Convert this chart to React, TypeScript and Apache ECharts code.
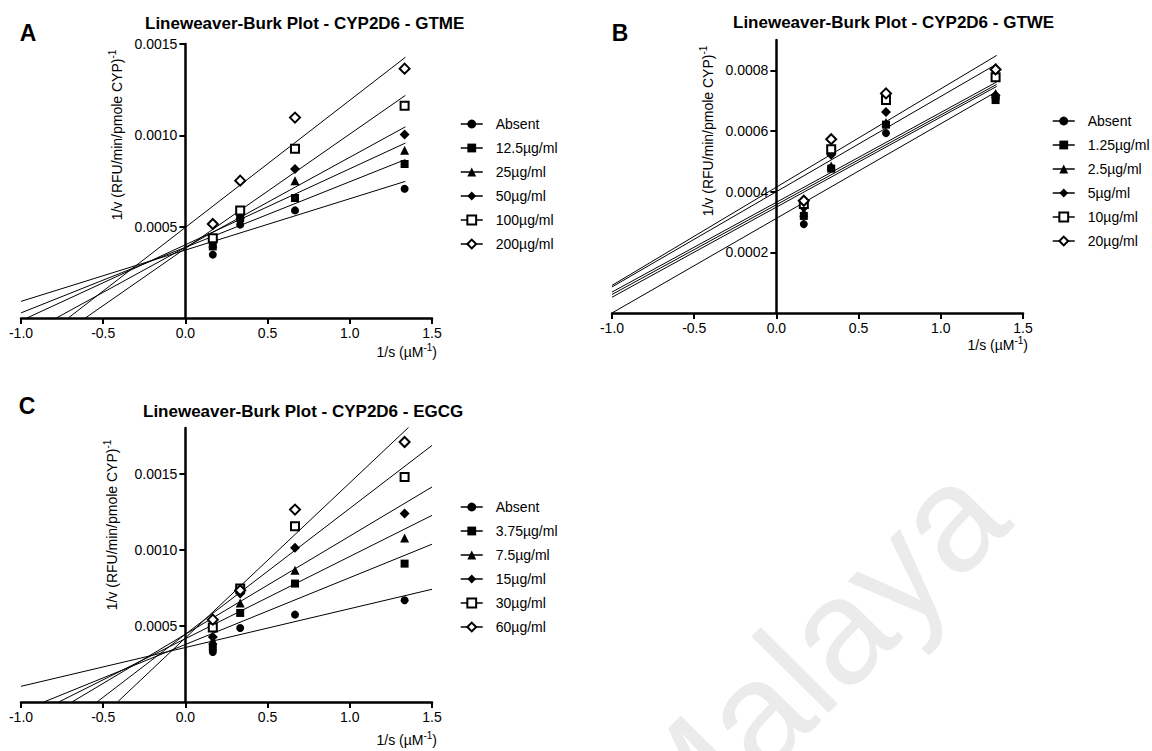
import React, { useEffect, useRef } from 'react';
import * as echarts from 'echarts';

const FONT = '"Liberation Sans", Arial, sans-serif';

// 1/s values (µM^-1)
const substrateInv = [0.1667, 0.3333, 0.6667, 1.3333];
const xTicks = [-1.0, -0.5, 0.0, 0.5, 1.0, 1.5];
const X_MIN = -1;
const X_MAX = 1.5;

// Panel A – GTME
const gtmeNames = ['Absent', '12.5µg/ml', '25µg/ml', '50µg/ml', '100µg/ml', '200µg/ml'];
const gtmeAbsent = [0.000347, 0.000511, 0.000589, 0.000708];
const gtme12 = [0.000392, 0.000547, 0.000657, 0.000843];
const gtme25 = [0.00041, 0.000566, 0.000752, 0.000918];
const gtme50 = [0.000429, 0.000575, 0.000816, 0.001004];
const gtme100 = [0.000436, 0.000588, 0.000927, 0.001162];
const gtme200 = [0.000515, 0.000752, 0.001097, 0.001365];
const gtmeIntercepts = [0.000372, 0.000387, 0.000401, 0.000387, 0.000381, 0.000496];
const gtmeSlopes = [0.000281, 0.000359, 0.000416, 0.000493, 0.000626, 0.000696];
const gtmeYTicks = [0.0005, 0.001, 0.0015];

// Panel B – GTWE
const gtweNames = ['Absent', '1.25µg/ml', '2.5µg/ml', '5µg/ml', '10µg/ml', '20µg/ml'];
const gtweAbsent = [0.000293, 0.000478, 0.000593, 0.000707];
const gtwe125 = [0.00032, 0.000476, 0.000621, 0.000702];
const gtwe25 = [0.000332, 0.000485, 0.000628, 0.000724];
const gtwe5 = [0.000348, 0.000522, 0.000663, 0.000718];
const gtwe10 = [0.000359, 0.00054, 0.000702, 0.000777];
const gtwe20 = [0.00037, 0.000573, 0.000724, 0.000803];
const gtweIntercepts = [0.000312, 0.000349, 0.000357, 0.000365, 0.0004, 0.000415];
const gtweSlopes = [0.000312, 0.000297, 0.000296, 0.000296, 0.000314, 0.000324];
const gtweYTicks = [0.0002, 0.0004, 0.0006, 0.0008];

// Panel C – EGCG
const egcgNames = ['Absent', '3.75µg/ml', '7.5µg/ml', '15µg/ml', '30µg/ml', '60µg/ml'];
const egcgAbsent = [0.000329, 0.000486, 0.000574, 0.000668];
const egcg375 = [0.000361, 0.000585, 0.000778, 0.000909];
const egcg75 = [0.000405, 0.00065, 0.000865, 0.001078];
const egcg15 = [0.000427, 0.000712, 0.001014, 0.001238];
const egcg30 = [0.000489, 0.000745, 0.001154, 0.001478];
const egcg60 = [0.000541, 0.000734, 0.001264, 0.001708];
const egcgIntercepts = [0.000358, 0.000378, 0.000416, 0.000445, 0.000445, 0.000421];
const egcgSlopes = [0.000255, 0.000439, 0.00054, 0.000645, 0.000827, 0.001019];
const egcgYTicks = [0.0005, 0.001, 0.0015];

const markerStyles = [
  { symbol: 'circle', size: 8, open: false },
  { symbol: 'rect', size: 8, open: false },
  { symbol: 'triangle', size: 9, open: false },
  { symbol: 'diamond', size: 10, open: false },
  { symbol: 'rect', size: 8, open: true },
  { symbol: 'diamond', size: 10, open: true },
];

const GRID_W = 411;

function panelSeries(idx: number, names: string[], values: number[][], intercepts: number[], slopes: number[], lineEnd: number) {
  const out: any[] = [];
  names.forEach((name, i) => {
    const a = intercepts[i];
    const b = slopes[i];
    const x0 = Math.max(X_MIN, -a / b);
    out.push({
      type: 'line',
      name: 'fit-' + idx + '-' + i,
      xAxisIndex: idx,
      yAxisIndex: idx,
      data: [[x0, a + b * x0], [lineEnd, a + b * lineEnd]],
      symbol: 'none',
      silent: true,
      clip: true,
      lineStyle: { color: '#000', width: 1 },
      z: 2,
    });
    const m = markerStyles[i];
    out.push({
      type: 'line',
      name,
      xAxisIndex: idx,
      yAxisIndex: idx,
      data: substrateInv.map((x, k) => [x, values[i][k]]),
      symbol: m.symbol,
      symbolSize: m.size,
      showSymbol: true,
      lineStyle: { width: 0, opacity: 0 },
      itemStyle: m.open
        ? { color: '#fff', borderColor: '#000', borderWidth: 2 }
        : { color: '#000', borderColor: '#000', borderWidth: 0 },
      z: 3,
    });
  });
  return out;
}

function xAxisFor(idx: number) {
  return {
    type: 'value',
    gridIndex: idx,
    min: X_MIN,
    max: X_MAX,
    interval: 0.5,
    axisLine: { show: true, onZero: false, lineStyle: { color: '#000', width: 2.5 } },
    axisTick: { show: true, length: 6, customValues: xTicks, lineStyle: { color: '#000', width: 2 } },
    axisLabel: {
      show: true, customValues: xTicks, fontSize: 14, color: '#000', fontFamily: FONT, margin: 8,
      showMinLabel: true, showMaxLabel: true,
      formatter: (v: number) => v.toFixed(1),
    },
    splitLine: { show: false },
  };
}

function yAxisFor(idx: number, max: number, ticks: number[]) {
  // y axis crosses the x axis at x = 0
  const zeroOffset = ((0 - X_MIN) / (X_MAX - X_MIN)) * GRID_W;
  return {
    type: 'value',
    gridIndex: idx,
    position: 'left',
    offset: -zeroOffset,
    min: 0,
    max,
    axisLine: { show: true, onZero: false, lineStyle: { color: '#000', width: 2.5 } },
    axisTick: { show: true, length: 6, customValues: ticks, lineStyle: { color: '#000', width: 2 } },
    axisLabel: {
      show: true, customValues: ticks, fontSize: 14, color: '#000', fontFamily: FONT, margin: 8,
      formatter: (v: number) => v.toFixed(4),
    },
    splitLine: { show: false },
  };
}

function legendFor(left: number, top: number, names: string[]) {
  return {
    orient: 'vertical',
    left,
    top,
    padding: 0,
    itemWidth: 22,
    itemHeight: 11,
    itemGap: 10,
    selectedMode: false,
    data: names,
    lineStyle: { color: '#000', width: 1.5, opacity: 1 },
    textStyle: { fontSize: 14, color: '#000', fontFamily: FONT, padding: [0, 0, 0, 8] },
  };
}

const richY = {
  m: { fontSize: 14, lineHeight: 20, fontFamily: FONT, fill: '#000' },
  s: { fontSize: 10, lineHeight: 10, fontFamily: FONT, fill: '#000', verticalAlign: 'top' },
};

function yName(x: number, y: number) {
  return {
    type: 'text', x, y, rotation: Math.PI / 2,
    style: {
      text: '{m|1/v (RFU/min/pmole CYP)}{s|-1}', rich: richY,
      align: 'center', verticalAlign: 'middle', textAlign: 'center', textVerticalAlign: 'middle',
    },
  };
}

function xName(x: number, y: number) {
  return {
    type: 'text', x, y,
    style: {
      text: '{m|1/s (µM}{s|-1}{m|)}', rich: richY,
      align: 'right', verticalAlign: 'middle', textAlign: 'right', textVerticalAlign: 'middle',
    },
  };
}

function letter(t: string, x: number, y: number) {
  return {
    type: 'text', x, y,
    style: {
      text: t, fontSize: 23, fontWeight: 'bold', fontFamily: FONT, fill: '#000',
      align: 'center', verticalAlign: 'middle', textAlign: 'center', textVerticalAlign: 'middle',
    },
  };
}

function titleFor(text: string, left: number, top: number) {
  return {
    text, left, top, padding: 0,
    textStyle: { fontSize: 17, fontWeight: 'bold', color: '#000', fontFamily: FONT },
  };
}

export default function App() {
  const ref = useRef<HTMLDivElement>(null);
  useEffect(() => {
    if (!ref.current) return;
    const chart = echarts.init(ref.current, undefined, { renderer: 'svg', width: 1152, height: 751 });
    const option: any = {
      animation: false,
      backgroundColor: '#fff',
      title: [
        titleFor('Lineweaver-Burk Plot - CYP2D6 - GTME', 145, 15),
        titleFor('Lineweaver-Burk Plot - CYP2D6 - GTWE', 733, 14),
        titleFor('Lineweaver-Burk Plot - CYP2D6 - EGCG', 143, 403),
      ],
      grid: [
        { left: 21, top: 44, width: GRID_W, height: 274, containLabel: false, outerBoundsMode: 'none' },
        { left: 612, top: 40, width: GRID_W, height: 273, containLabel: false, outerBoundsMode: 'none' },
        { left: 21, top: 428, width: GRID_W, height: 274, containLabel: false, outerBoundsMode: 'none' },
      ],
      xAxis: [xAxisFor(0), xAxisFor(1), xAxisFor(2)],
      yAxis: [
        yAxisFor(0, 0.0015, gtmeYTicks),
        yAxisFor(1, 0.0009, gtweYTicks),
        yAxisFor(2, 0.0018, egcgYTicks),
      ],
      legend: [
        legendFor(460, 117, gtmeNames),
        legendFor(1052, 114, gtweNames),
        legendFor(460, 500, egcgNames),
      ],
      graphic: [
        {
          type: 'text', x: 808, y: 660, rotation: 0.79, z: -10,
          style: {
            text: 'Malaya', fontSize: 150, fontFamily: FONT, fill: '#ebebeb',
            align: 'center', verticalAlign: 'middle', textAlign: 'center', textVerticalAlign: 'middle',
          },
        },
        letter('A', 28, 33),
        letter('B', 620, 33),
        letter('C', 27, 406),
        yName(117, 135),
        yName(708, 131),
        yName(112, 525),
        xName(437, 352),
        xName(1028, 345),
        xName(437, 740),
      ],
      series: [
        ...panelSeries(0, gtmeNames, [gtmeAbsent, gtme12, gtme25, gtme50, gtme100, gtme200], gtmeIntercepts, gtmeSlopes, 1.338),
        ...panelSeries(1, gtweNames, [gtweAbsent, gtwe125, gtwe25, gtwe5, gtwe10, gtwe20], gtweIntercepts, gtweSlopes, 1.34),
        ...panelSeries(2, egcgNames, [egcgAbsent, egcg375, egcg75, egcg15, egcg30, egcg60], egcgIntercepts, egcgSlopes, 1.5),
      ],
    };
    chart.setOption(option);
    return () => chart.dispose();
  }, []);
  return (
    <div
      ref={ref}
      style={{ position: 'absolute', left: 0, top: 0, width: 1152, height: 751, background: '#fff' }}
    />
  );
}
